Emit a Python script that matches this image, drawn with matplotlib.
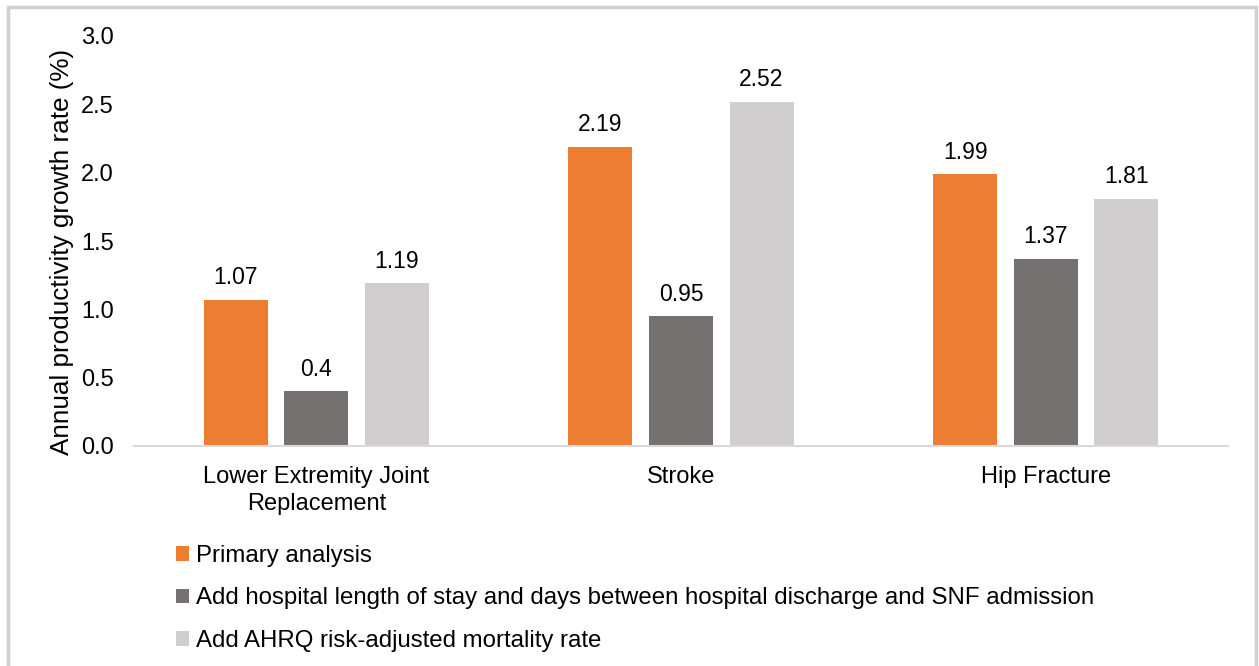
import matplotlib
matplotlib.use("Agg")
import matplotlib.pyplot as plt
from matplotlib.patches import Rectangle
import numpy as np

categories = ["Lower Extremity Joint\nReplacement", "Stroke", "Hip Fracture"]
series_names = [
    "Primary analysis",
    "Add hospital length of stay and days between hospital discharge and SNF admission",
    "Add AHRQ risk-adjusted mortality rate",
]
primary = [1.07, 2.19, 1.99]
add_los = [0.4, 0.95, 1.37]
add_ahrq = [1.19, 2.52, 1.81]
label_texts = [["1.07", "2.19", "1.99"], ["0.4", "0.95", "1.37"], ["1.19", "2.52", "1.81"]]
yticks = [0.0, 0.5, 1.0, 1.5, 2.0, 2.5, 3.0]
ylabel = "Annual productivity growth rate (%)"

colors = ["#ED7D31", "#767171", "#D0CECE"]

plt.rcParams['font.family'] = ['Liberation Sans', 'DejaVu Sans']

W, H = 1259, 666
fig = plt.figure(figsize=(W / 100, H / 100), dpi=100)
ax = fig.add_axes([134 / W, 1 - 446 / H, (1228 - 134) / W, (446 - 36) / H])

x = np.arange(len(categories))
width = 0.1756
offset = 0.2208
series = [primary, add_los, add_ahrq]
bars = []
for i, (vals, col, name) in enumerate(zip(series, colors, series_names)):
    b = ax.bar(x + (i - 1) * offset, vals, width=width, color=col, label=name, zorder=2)
    bars.append(b)
    for rect, txt in zip(b, label_texts[i]):
        ax.annotate(txt, (rect.get_x() + rect.get_width() / 2, rect.get_height()),
                    xytext=(0, 11), textcoords="offset points",
                    ha="center", va="baseline", fontsize=16.5, color="black")

ax.set_xlim(-0.5, 2.5)
ax.set_ylim(0, 3.0)
ax.set_yticks(yticks)
ax.set_yticklabels([f"{v:.1f}" for v in yticks])
ax.set_xticks(x)
ax.set_xticklabels(categories, fontsize=17, linespacing=1.27)
ax.tick_params(axis="y", length=0, pad=14.5, labelsize=17, colors="black")
ax.tick_params(axis="x", length=0, pad=14.5, labelsize=17, colors="black")
for s in ["top", "right", "left"]:
    ax.spines[s].set_visible(False)
ax.spines["bottom"].set_color("#D9D9D9")
ax.spines["bottom"].set_linewidth(1.5)

fig.text(62 / W, 1 - 252 / H, ylabel, rotation=90, ha="center", va="center",
         fontsize=18.8, color="black")

leg = fig.legend(handles=bars, labels=series_names, loc="upper left",
                 bbox_to_anchor=(176 / W, 1 - 545 / H), frameon=False,
                 fontsize=17.3, handlelength=0.55, handleheight=0.55,
                 handletextpad=0.3, labelspacing=0.85, borderpad=0, borderaxespad=0)

fig.patches.append(Rectangle((8 / W, -0.05), (1256 - 8) / W, 1.05 - 7 / H,
                             transform=fig.transFigure, fill=False,
                             edgecolor="#D0D0D0", linewidth=2.5))

fig.savefig("out.png", dpi=100)
